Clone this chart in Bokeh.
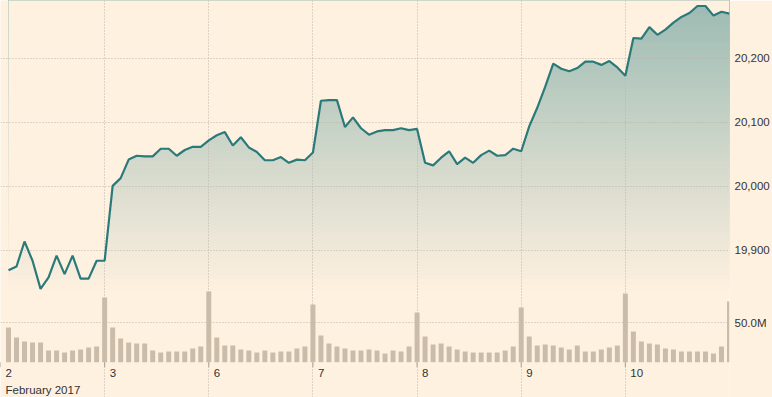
import numpy as np
from bokeh.plotting import figure
from bokeh.models import Range1d, FixedTicker
from bokeh.core.properties import value
from bokeh.embed import file_html
from bokeh.resources import INLINE

# ---------------- data ----------------
day_labels = ["2", "3", "6", "7", "8", "9", "10"]
month_label = "February 2017"
bars_per_day = 13  # 30-minute slots per trading day

# index price, one value per 30-minute slot (slot 1 .. 91)
price = [
    19869, 19875, 19914, 19884, 19840, 19858, 19892, 19863, 19892, 19856, 19856, 19884,
    19884, 20001, 20013, 20042, 20048, 20047, 20047, 20059, 20059, 20048, 20057, 20062, 20062,
    20072, 20080, 20085, 20064, 20077, 20061, 20054, 20041, 20041, 20046, 20037, 20042, 20041,
    20053, 20134, 20135, 20135, 20093, 20108, 20091, 20081, 20086, 20088, 20088, 20091, 20088,
    20090, 20037, 20033, 20045, 20055, 20035, 20045, 20037, 20049, 20056, 20048, 20049, 20059,
    20055, 20094, 20123, 20156, 20192, 20184, 20180, 20185, 20195, 20195, 20190, 20196, 20186,
    20173, 20232, 20231, 20249, 20237, 20245, 20256, 20265, 20271, 20282, 20282, 20267, 20273,
    20270,
]

# volume in millions, one bar per slot
volume_m = [
    43.8, 31.2, 26.1, 24.8, 24.8, 14.7, 14.7, 12.2, 14.7, 16.0, 18.5, 19.8,
    81.6, 43.8, 29.9, 24.8, 23.6, 23.6, 14.7, 12.2, 13.5, 13.5, 13.5, 17.3, 19.8,
    89.2, 31.2, 21.0, 21.0, 16.0, 14.7, 12.2, 14.7, 12.2, 13.5, 13.5, 17.3, 19.8,
    72.8, 33.7, 23.6, 19.8, 17.3, 14.7, 14.7, 16.0, 14.7, 10.9, 14.7, 13.5, 19.8,
    62.7, 32.4, 22.3, 23.6, 19.8, 16.0, 13.5, 12.2, 12.2, 12.2, 12.2, 14.7, 19.8,
    69.0, 32.4, 21.0, 22.3, 21.0, 18.5, 16.0, 21.0, 13.5, 13.5, 16.0, 18.5, 21.0,
    86.7, 38.7, 26.1, 23.6, 22.3, 17.3, 16.0, 13.5, 13.5, 13.5, 13.5, 10.9, 19.8,
    76.6,
]

price_ticks = [19900, 20000, 20100, 20200]
volume_ticks = [50]

# ---------------- style ----------------
BG = "#fff1e0"
LINE = "#2a7a7a"
BAR = "#cbbba9"
GRID = "#bdb3a8"
TICK = "#a89f95"
TEXT = "#333333"
FONT = "Liberation Sans"
FS = "11.5px"

W, H = 772, 397
slot = np.arange(1, len(price) + 1)
boundaries = [k * bars_per_day for k in range(len(day_labels))]

x_lo, x_hi = 0, len(price)
# frame covers the full height; the strip below the volume baseline holds the date labels
p_lo, p_hi = 19670.3, 20290.6
v_lo, v_hi = -44.6, 456.7

p = figure(width=W, height=H, output_backend="svg", toolbar_location=None,
           x_range=Range1d(x_lo, x_hi), y_range=Range1d(p_lo, p_hi),
           x_axis_location=None, y_axis_location="right",
           min_border_left=0, min_border_top=0, min_border_right=42, min_border_bottom=0,
           background_fill_color=BG, border_fill_color=BG, outline_line_color=None)
p.extra_y_ranges = {"vol": Range1d(v_lo, v_hi)}

# baseline of the volume panel expressed on the price scale
p_base = p_lo + (0 - v_lo) / (v_hi - v_lo) * (p_hi - p_lo)
vol_per_px = (v_hi - v_lo) / H

# ---- gradient fill under the line (nested bands, bottom to top) ----
fill_bottom = 19830
n_bands = 90
edges = np.linspace(fill_bottom, p_hi, n_bands + 1)[:-1]
c_bot = np.array([255, 241, 224])
c_top = np.array([155, 186, 178])
cols = []
for e in edges:
    t = (e - fill_bottom) / (p_hi - fill_bottom)
    c = (c_bot + (c_top - c_bot) * t).round().astype(int)
    cols.append("#%02x%02x%02x" % tuple(c))
p.quad(left=[slot[0]] * n_bands, right=[slot[-1]] * n_bands, bottom=list(edges),
       top=[p_hi + 10] * n_bands, fill_color=cols, line_color=None, level="image")
# cover the area above the line with the background colour
p.varea(x=slot, y1=price, y2=[p_hi + 10] * len(price), fill_color=BG, level="image")

# ---- volume bars ----
p.vbar(x=slot, top=volume_m, bottom=0, width=0.62, y_range_name="vol",
       fill_color=BAR, line_color=None)

# ---- price line ----
p.line(slot, price, line_color=LINE, line_width=2.2)

# ---- right axis (price ticks + volume tick mapped onto the price scale) ----
vol_as_price = [p_lo + (v - v_lo) / (v_hi - v_lo) * (p_hi - p_lo) for v in volume_ticks]
yt = price_ticks + vol_as_price
overrides = {t: f"{t:,}" for t in price_ticks}
for v, pv in zip(volume_ticks, vol_as_price):
    overrides[pv] = f"{v:.1f}M"
ya = p.yaxis[0]
ya.ticker = FixedTicker(ticks=yt)
ya.major_label_overrides = overrides
ya.axis_line_color = None
ya.major_tick_line_color = None
ya.minor_tick_line_color = None
ya.major_tick_out = 0
ya.major_tick_in = 0
ya.major_label_standoff = 5
ya.major_label_text_font = FONT
ya.major_label_text_font_size = FS
ya.major_label_text_color = TEXT

# ---- date axis: tick marks below the baseline and left-aligned labels ----
p.segment(x0=boundaries, x1=boundaries, y0=[0] * len(boundaries),
          y1=[-5 * vol_per_px] * len(boundaries), y_range_name="vol",
          line_color=TICK, line_width=1)
p.text(x=boundaries, y=[0] * len(boundaries), text=day_labels, y_range_name="vol",
       x_offset=5, y_offset=11, text_align="left", text_baseline="middle",
       text_font=value(FONT), text_font_size=FS, text_color=TEXT)
p.text(x=[boundaries[0]], y=[0], text=[month_label], y_range_name="vol",
       x_offset=5, y_offset=28, text_align="left", text_baseline="middle",
       text_font=value(FONT), text_font_size=FS, text_color=TEXT)

# ---- grids ----
p.xgrid.ticker = FixedTicker(ticks=boundaries)
p.xgrid.bounds = (p_base, p_hi)
p.ygrid.ticker = FixedTicker(ticks=yt)
for g in (p.xgrid[0], p.ygrid[0]):
    g.grid_line_color = GRID
    g.grid_line_dash = "1 2"
    g.grid_line_width = 1

open("out.html", "w").write(file_html(p, INLINE))
